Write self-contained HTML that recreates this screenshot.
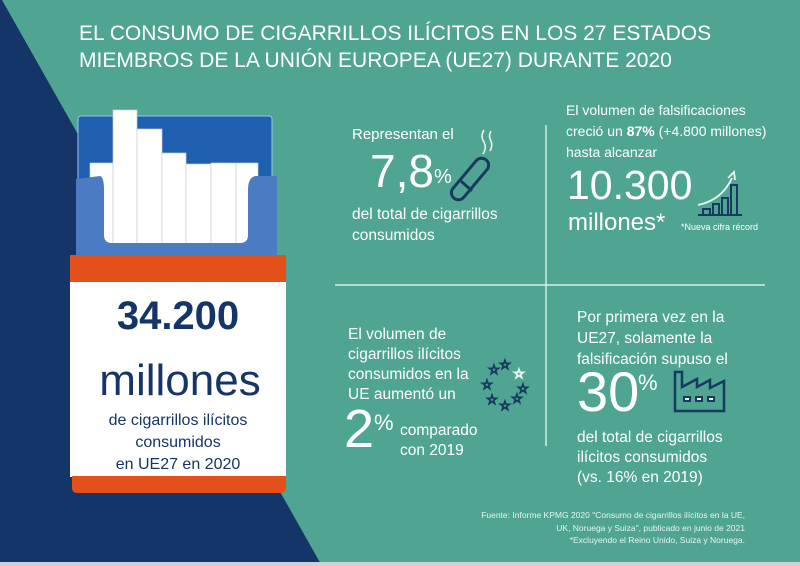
<!DOCTYPE html>
<html><head><meta charset="utf-8"><style>
body{margin:0;width:800px;height:566px;overflow:hidden;background:#4fa592;font-family:"Liberation Sans","DejaVu Sans",sans-serif;}
.t{position:absolute;color:#fff;white-space:nowrap;}
</style></head><body>
<svg width="800" height="566" style="position:absolute;left:0;top:0">
<rect width="800" height="566" fill="#4fa592"/>
<polygon points="0,0 2,0 322,566 0,566" fill="#153467"/>
<rect x="0" y="562" width="800" height="4" fill="#c9d3d6"/>
<line x1="546" y1="125" x2="546" y2="446" stroke="#d5ece6" stroke-width="1.5"/>
<line x1="335" y1="285" x2="765" y2="285" stroke="#d5ece6" stroke-width="1.5"/>
<rect x="78" y="116" width="194" height="150" rx="3" fill="#1f5fb0" stroke="#9fc2ea" stroke-width="1"/>
<g fill="#fff" stroke="#c8ccd2" stroke-width="0.7">
<rect x="90" y="163" width="23" height="100"/>
<rect x="113" y="110" width="24" height="153"/>
<rect x="137" y="129" width="25" height="134"/>
<rect x="162" y="153" width="24" height="110"/>
<rect x="186" y="164" width="25" height="99"/>
<rect x="211" y="163" width="25" height="100"/>
<rect x="236" y="163" width="22" height="100"/>
</g>
<path d="M76,179 L100,176 Q104,177 104,190 L104,235 Q104,243 112,243 L240,243 Q248,243 248,235 L248,190 Q248,177 256,176 L277,176 L277,257 L76,257 Z" fill="#4b7bc3"/>
<rect x="70" y="255" width="216" height="28" fill="#e4501a"/>
<rect x="70" y="282" width="216" height="195" fill="#fff"/>
<path d="M72,476 L286,476 L286,488 Q286,493 280,493 L78,493 Q72,493 72,488 Z" fill="#e4501a"/>
<g fill="none" stroke="#173a5e" stroke-width="3" stroke-linecap="round">
<rect x="463" y="154" width="14" height="50" rx="7" transform="rotate(40 470 179)"/>
<line x1="462" y1="182" x2="471" y2="190"/>
</g>
<g fill="none" stroke="#e6f3ef" stroke-width="1.6"><path d="M484,130 q-4,6 0,12 q3,6 -1,12"/><path d="M491,131 q-3,5 0,10 q2,5 -1,10"/></g>
<g fill="none" stroke="#173a5e" stroke-width="2">
<path d="M703,214 v-5 h7 v5"/><path d="M713,214 v-10 h6 v10"/><path d="M722,214 v-16 h6 v16"/><path d="M731,214 v-29 h6 v29"/>
<line x1="698" y1="215" x2="742" y2="215"/>
</g>
<path d="M698,205 Q722,200 732,178" fill="none" stroke="#eaf5f1" stroke-width="1.8"/>
<path d="M728,178 l6,-6 l1,8" fill="none" stroke="#eaf5f1" stroke-width="1.8"/>
<g font-family="DejaVu Sans" font-size="13" fill="none" stroke="#173a5e" stroke-width="1.3" text-anchor="middle">
<text x="494" y="374">☆</text><text x="505" y="369">☆</text><text x="519" y="378" stroke="#eaf5f1">☆</text>
<text x="487" y="389">☆</text><text x="523" y="393">☆</text><text x="492" y="404">☆</text>
<text x="505" y="410">☆</text><text x="517" y="403">☆</text>
</g>
<path d="M675,411 V372 h7 v15 l15,-8 v8 l13,-7 v8 l14,-7 v30 Z" fill="none" stroke="#173a5e" stroke-width="2.5"/>
<g fill="#173a5e"><rect x="683" y="396" width="8" height="6"/><rect x="695" y="396" width="8" height="6"/><rect x="707" y="396" width="8" height="6"/></g>
<g fill="#fff"><rect x="685" y="398" width="4" height="2"/><rect x="697" y="398" width="4" height="2"/><rect x="709" y="398" width="4" height="2"/></g>
</svg>

<div class="t" style="left:79px;top:20px;font-size:21px;line-height:27px">EL CONSUMO DE CIGARRILLOS ILÍCITOS EN LOS 27 ESTADOS<br>MIEMBROS DE LA UNIÓN EUROPEA (UE27) DURANTE 2020</div>

<div class="t" style="left:70px;width:216px;text-align:center;top:294px;font-size:40px;font-weight:bold;color:#153467">34.200</div>
<div class="t" style="left:72px;width:216px;text-align:center;top:356px;font-size:44px;color:#153467">millones</div>
<div class="t" style="left:70px;width:216px;text-align:center;top:410px;font-size:16px;line-height:22px;color:#153467">de cigarrillos ilícitos<br>consumidos<br>en UE27 en 2020</div>

<div class="t" style="left:352px;top:126px;font-size:15px">Representan el</div>
<div class="t" style="left:370px;top:146px;font-size:46px;line-height:50px">7,8<span style="font-size:20px;vertical-align:top;position:relative;top:6px">%</span></div>
<div class="t" style="left:352px;top:204px;font-size:15.5px;line-height:21px">del total de cigarrillos<br>consumidos</div>

<div class="t" style="left:566px;top:100px;font-size:14px;line-height:21px">El volumen de falsificaciones<br>creció un <b>87%</b> (+4.800 millones)<br>hasta alcanzar</div>
<div class="t" style="left:567px;top:161px;font-size:41px;line-height:48px">10.300</div>
<div class="t" style="left:568px;top:208px;font-size:24px;line-height:30px">millones*</div>
<div class="t" style="left:681px;top:222px;font-size:9px">*Nueva cifra récord</div>

<div class="t" style="left:348px;top:325px;font-size:15.5px;line-height:20px">El volumen de<br>cigarrillos ilícitos<br>consumidos en la<br>UE aumentó un</div>
<div class="t" style="left:344px;top:401px;font-size:54px;line-height:56px">2</div>
<div class="t" style="left:374px;top:410px;font-size:22px">%</div>
<div class="t" style="left:400px;top:421px;font-size:15.5px;line-height:20px">comparado<br>con 2019</div>

<div class="t" style="left:577px;top:307px;font-size:15.5px;line-height:21px">Por primera vez en la<br>UE27, solamente la<br>falsificación supuso el</div>
<div class="t" style="left:577px;top:364px;font-size:56px;line-height:56px">30</div>
<div class="t" style="left:638px;top:370px;font-size:22px">%</div>
<div class="t" style="left:577px;top:428px;font-size:15.5px;line-height:20px">del total de cigarrillos<br>ilícitos consumidos<br>(vs. 16% en 2019)</div>

<div class="t" style="right:55px;top:509px;font-size:8.5px;line-height:12.5px;text-align:right;color:#e8f3ef">Fuente: Informe KPMG 2020 "Consumo de cigarrillos ilícitos en la UE,<br>UK, Noruega y Suiza", publicado en junio de 2021<br>*Excluyendo el Reino Unido, Suiza y Noruega.</div>
</body></html>
